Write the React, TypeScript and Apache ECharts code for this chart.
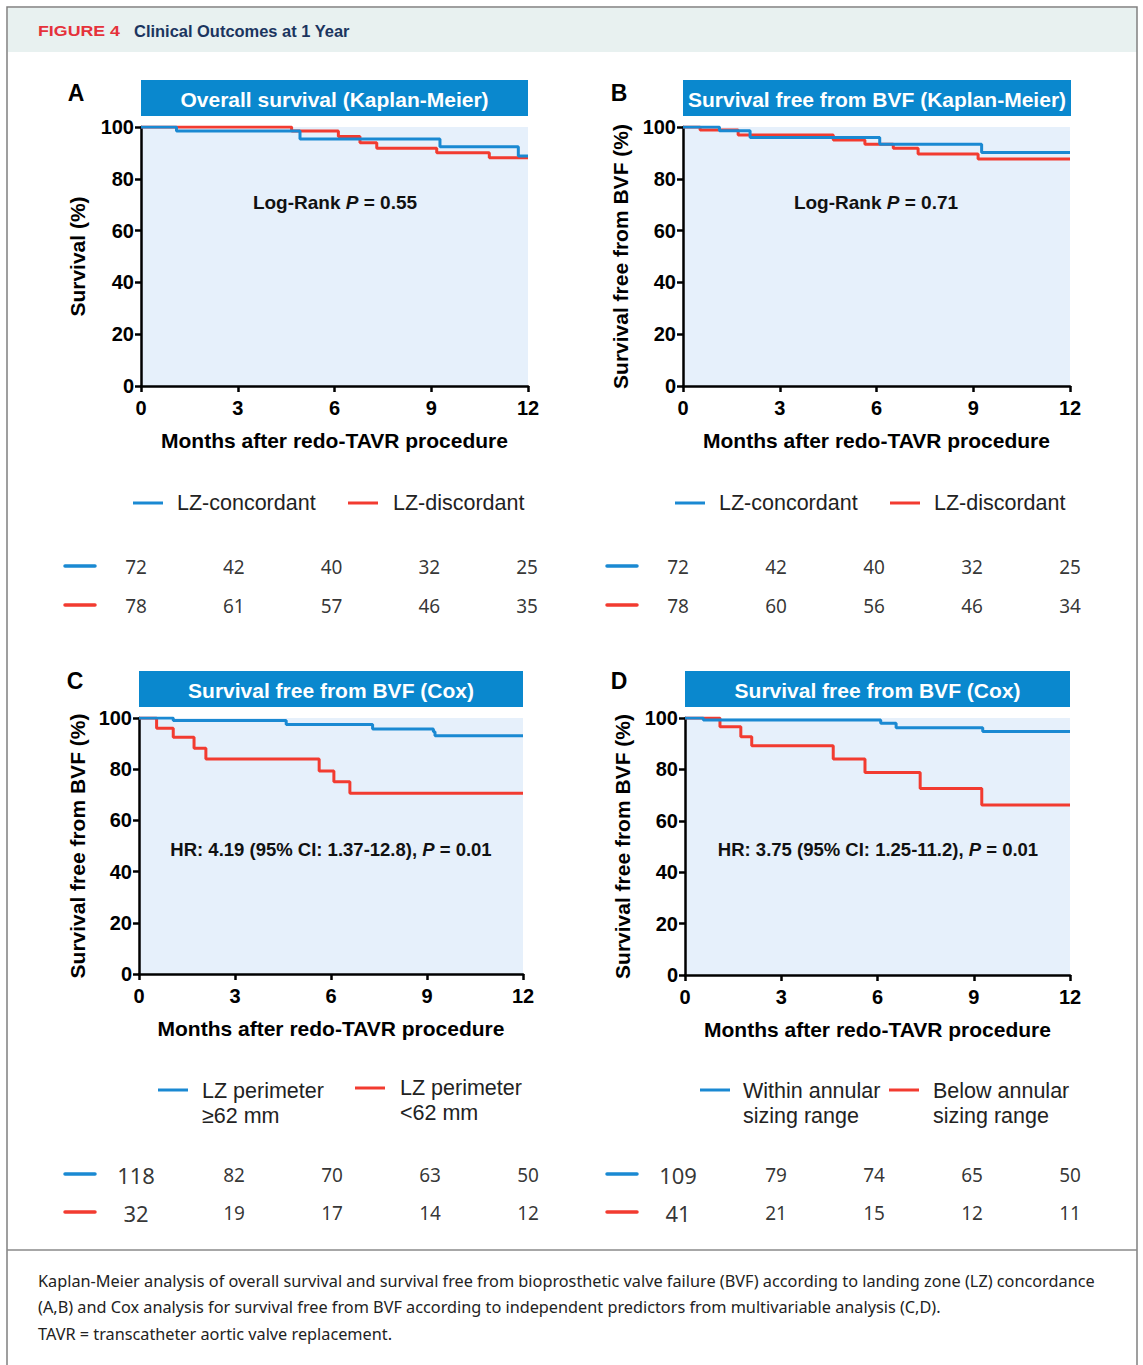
import React, { useEffect, useRef } from "react";
import * as echarts from "echarts";

// ---------- Data ----------
const riskMonths = [0, 3, 6, 9, 12];

// Panel A – Overall survival (Kaplan-Meier)
const aConcT = [0, 1.1, 4.93, 9.27, 11.7, 12];
const aConcS = [100, 98.5, 95.4, 92.4, 88.8, 88.8];
const aDiscT = [0, 4.67, 6.12, 6.79, 7.31, 9.17, 10.8, 12];
const aDiscS = [100, 98.5, 96.3, 93.9, 91.8, 90.1, 88.1, 88.1];
const aRiskConc = [72, 42, 40, 32, 25];
const aRiskDisc = [78, 61, 57, 46, 35];

// Panel B – Survival free from BVF (Kaplan-Meier)
const bConcT = [0, 1.13, 2.08, 6.1, 9.26, 12];
const bConcS = [100, 98.6, 95.9, 93.3, 90.2, 90.2];
const bDiscT = [0, 0.53, 1.71, 4.66, 5.64, 6.52, 7.29, 9.15, 12];
const bDiscS = [100, 98.8, 96.9, 95.0, 93.3, 91.8, 89.6, 87.6, 87.6];
const bRiskConc = [72, 42, 40, 32, 25];
const bRiskDisc = [78, 60, 56, 46, 34];

// Panel C – Survival free from BVF (Cox), LZ perimeter
const cHighT = [0, 1.07, 4.6, 7.3, 9.2, 9.25, 12];
const cHighS = [100, 99, 97.5, 95.7, 94.6, 93.1, 93.1];
const cLowT = [0, 0.55, 1.07, 1.72, 2.09, 5.63, 6.09, 6.59, 12];
const cLowS = [100, 96.0, 92.5, 88.2, 84.0, 79.3, 75.1, 70.6, 70.6];
const cRiskHigh = [118, 82, 70, 63, 50];
const cRiskLow = [32, 19, 17, 14, 12];

// Panel D – Survival free from BVF (Cox), annular sizing
const dWithinT = [0, 0.57, 6.1, 6.58, 9.28, 12];
const dWithinS = [100, 99.2, 98.0, 96.2, 94.7, 94.7];
const dBelowT = [0, 1.09, 1.74, 2.08, 4.62, 5.61, 7.33, 9.25, 12];
const dBelowS = [100, 96.6, 92.7, 89.2, 84.0, 78.8, 72.6, 66.1, 66.1];
const dRiskWithin = [109, 79, 74, 65, 50];
const dRiskBelow = [41, 21, 15, 12, 11];

const panelTitles = [
  "Overall survival (Kaplan-Meier)",
  "Survival free from BVF (Kaplan-Meier)",
  "Survival free from BVF (Cox)",
  "Survival free from BVF (Cox)",
];
const yNames = [
  "Survival (%)",
  "Survival free from BVF (%)",
  "Survival free from BVF (%)",
  "Survival free from BVF (%)",
];
const xName = "Months after redo-TAVR procedure";

// ---------- Styles ----------
const BLUE = "#1A89D2";
const RED = "#F23B30";
const BANNER = "#0A88CE";
const PLOT_BG = "#E6F0FB";
const ARIAL = "'Liberation Sans', Arial, sans-serif";
const RISK_FONT = "'Noto Sans', sans-serif";
const CAPTION_FONT = "'Noto Sans', sans-serif";

function measure(text: string, font: string): number {
  const ctx = document.createElement("canvas").getContext("2d");
  if (!ctx) return text.length * 8;
  ctx.font = font;
  return ctx.measureText(text).width;
}

const pairs = (t: number[], s: number[]) => t.map((v, i) => [v, s[i]]);

function buildOption() {
  const mainGrids = [
    { left: 141, top: 127, width: 387, height: 259 },
    { left: 683, top: 127, width: 387, height: 259 },
    { left: 139, top: 718, width: 384, height: 256 },
    { left: 685, top: 718, width: 385, height: 257 },
  ];
  const riskGrids = [
    { left: 136, top: 567, width: 391, height: 39 },
    { left: 678, top: 567, width: 392, height: 39 },
    { left: 136, top: 1175, width: 392, height: 38 },
    { left: 678, top: 1175, width: 392, height: 38 },
  ];
  const grids: any[] = [
    ...mainGrids.map((g) => ({ ...g, show: true, backgroundColor: PLOT_BG, borderWidth: 0 })),
    ...riskGrids.map((g) => ({ ...g, show: false })),
  ];

  const tickText = { color: "#000", fontSize: 20, fontWeight: "bold", fontFamily: ARIAL };
  const nameText = { color: "#000", fontSize: 21, fontWeight: "bold", fontFamily: ARIAL };
  const axisLine = { show: true, onZero: false, lineStyle: { color: "#000", width: 2.5 } };
  const axisTick = { show: true, length: 6, lineStyle: { color: "#000", width: 2.5 } };

  const yGaps = [53, 52, 51, 52];
  const xAxes: any[] = [];
  const yAxes: any[] = [];
  for (let i = 0; i < 4; i++) {
    xAxes.push({
      gridIndex: i,
      type: "value",
      min: 0,
      max: 12,
      interval: 3,
      axisLine,
      axisTick,
      axisLabel: { ...tickText, margin: 12 },
      splitLine: { show: false },
      name: xName,
      nameLocation: "middle",
      nameGap: 44,
      nameTextStyle: nameText,
    });
    yAxes.push({
      gridIndex: i,
      type: "value",
      min: 0,
      max: 100,
      interval: 20,
      axisLine,
      axisTick,
      axisLabel: { ...tickText, margin: 7 },
      splitLine: { show: false },
      name: yNames[i],
      nameLocation: "middle",
      nameGap: yGaps[i],
      nameTextStyle: nameText,
    });
  }
  for (let i = 0; i < 4; i++) {
    xAxes.push({ gridIndex: 4 + i, type: "value", min: 0, max: 12, show: false });
    yAxes.push({ gridIndex: 4 + i, type: "value", min: 0, max: 1, show: false });
  }

  const curves: [number[], number[], number[], number[]][] = [
    [aConcT, aConcS, aDiscT, aDiscS],
    [bConcT, bConcS, bDiscT, bDiscS],
    [cHighT, cHighS, cLowT, cLowS],
    [dWithinT, dWithinS, dBelowT, dBelowS],
  ];
  const risks: [number[], number[]][] = [
    [aRiskConc, aRiskDisc],
    [bRiskConc, bRiskDisc],
    [cRiskHigh, cRiskLow],
    [dRiskWithin, dRiskBelow],
  ];

  const series: any[] = [];
  curves.forEach(([bt, bs, rt, rs], i) => {
    series.push({
      type: "line",
      xAxisIndex: i,
      yAxisIndex: i,
      step: "end",
      symbol: "none",
      silent: true,
      data: pairs(rt, rs),
      lineStyle: { color: RED, width: 3 },
      z: 3,
    });
    series.push({
      type: "line",
      xAxisIndex: i,
      yAxisIndex: i,
      step: "end",
      symbol: "none",
      silent: true,
      data: pairs(bt, bs),
      lineStyle: { color: BLUE, width: 3 },
      z: 4,
    });
  });
  risks.forEach(([top, bottom], i) => {
    const big = i >= 2;
    [top, bottom].forEach((row, r) => {
      series.push({
        type: "scatter",
        xAxisIndex: 4 + i,
        yAxisIndex: 4 + i,
        symbolSize: 1,
        silent: true,
        itemStyle: { color: "rgba(0,0,0,0)" },
        data: riskMonths.map((m, k) => ({
          value: [m, r === 0 ? 1 : 0, row[k]],
          label: k === 0 && big ? { fontSize: 22 } : undefined,
        })),
        label: {
          show: true,
          position: "inside",
          formatter: (p: any) => String(p.value[2]),
          color: "#000",
          fontSize: 19,
          fontFamily: RISK_FONT,
        },
      });
    });
  });

  // ---------- Graphic overlays ----------
  const g: any[] = [];
  g.push({ type: "rect", shape: { x: 8, y: 8, width: 1129, height: 44 }, style: { fill: "#E8F1F0" }, silent: true });
  g.push({
    type: "rect",
    shape: { x: 7, y: 7, width: 1130, height: 1380 },
    style: { fill: "none", stroke: "#808080", lineWidth: 1.5 },
    silent: true,
  });
  g.push({ type: "line", shape: { x1: 7, y1: 1250, x2: 1137, y2: 1250 }, style: { stroke: "#8a8a8a", lineWidth: 1.5 }, silent: true });

  const figFont = `bold 14px ${ARIAL}`;
  const figText = "FIGURE 4";
  const headFont = `bold 16px ${ARIAL}`;
  const headText = "Clinical Outcomes at 1 Year";
  g.push({
    type: "text",
    x: 38,
    y: 31,
    scaleX: 82 / measure(figText, figFont),
    style: { text: figText, font: figFont, fill: "#E5323B", textVerticalAlign: "middle", verticalAlign: "middle" },
  });
  g.push({
    type: "text",
    x: 134,
    y: 31,
    scaleX: 216 / measure(headText, headFont),
    style: { text: headText, font: headFont, fill: "#1B355F", textVerticalAlign: "middle", verticalAlign: "middle" },
  });

  // Banners
  const banners = [
    { x: 141, y: 80, w: 387, h: 36 },
    { x: 683, y: 80, w: 388, h: 36 },
    { x: 139, y: 671, w: 384, h: 36 },
    { x: 685, y: 671, w: 385, h: 36 },
  ];
  banners.forEach((b, i) => {
    g.push({ type: "rect", shape: { x: b.x, y: b.y, width: b.w, height: b.h }, style: { fill: BANNER } });
    g.push({
      type: "text",
      x: b.x + b.w / 2,
      y: b.y + b.h / 2 + 1,
      style: {
        text: panelTitles[i],
        font: `bold 21px ${ARIAL}`,
        fill: "#fff",
        textAlign: "center",
        align: "center",
        textVerticalAlign: "middle",
        verticalAlign: "middle",
      },
    });
  });

  // Panel letters
  const letters = [
    ["A", 76, 93],
    ["B", 619, 93],
    ["C", 75, 681],
    ["D", 619, 681],
  ];
  letters.forEach(([t, x, y]) =>
    g.push({
      type: "text",
      x,
      y,
      style: {
        text: t,
        font: `bold 23px ${ARIAL}`,
        fill: "#000",
        textAlign: "center",
        align: "center",
        textVerticalAlign: "middle",
        verticalAlign: "middle",
      },
    })
  );

  // Annotations
  const mkRich = (size: number) => ({
    a: { fontSize: size, fontWeight: "bold", fontFamily: ARIAL, fill: "#111" },
    i: { fontSize: size, fontWeight: "bold", fontStyle: "italic", fontFamily: ARIAL, fill: "#111" },
  });
  const annos: [string, number, number, number][] = [
    ["{a|Log-Rank }{i|P}{a| = 0.55}", 335, 202, 19],
    ["{a|Log-Rank }{i|P}{a| = 0.71}", 876, 202, 19],
    ["{a|HR: 4.19 (95% CI: 1.37-12.8), }{i|P}{a| = 0.01}", 331, 849, 18.5],
    ["{a|HR: 3.75 (95% CI: 1.25-11.2), }{i|P}{a| = 0.01}", 878, 849, 18.5],
  ];
  annos.forEach(([t, x, y, s]) =>
    g.push({
      type: "text",
      x,
      y,
      z: 10,
      style: {
        text: t,
        rich: mkRich(s),
        textAlign: "center",
        align: "center",
        textVerticalAlign: "middle",
        verticalAlign: "middle",
      },
    })
  );

  // Legends
  const legends: any[] = [
    // [color, lineX, lineY, textX, text, textCenterY]
    [BLUE, 133, 503, 177, "LZ-concordant", 503],
    [RED, 348, 503, 393, "LZ-discordant", 503],
    [BLUE, 675, 503, 719, "LZ-concordant", 503],
    [RED, 890, 503, 934, "LZ-discordant", 503],
    [BLUE, 158, 1090, 202, "LZ perimeter\n≥62 mm", 1103],
    [RED, 355, 1088, 400, "LZ perimeter\n<62 mm", 1100],
    [BLUE, 700, 1090, 743, "Within annular\nsizing range", 1103],
    [RED, 889, 1090, 933, "Below annular\nsizing range", 1103],
  ];
  legends.forEach(([c, lx, ly, tx, t, ty]: any) => {
    g.push({ type: "line", shape: { x1: lx, y1: ly, x2: lx + 30, y2: ly }, style: { stroke: c, lineWidth: 3 } });
    g.push({
      type: "text",
      x: tx,
      y: ty,
      style: {
        text: t,
        font: `21.5px ${ARIAL}`,
        lineHeight: 25,
        fill: "#222",
        textVerticalAlign: "middle",
        verticalAlign: "middle",
      },
    });
  });

  // Risk-table row markers
  const marks: [string, number, number][] = [
    [BLUE, 65, 566],
    [RED, 65, 605],
    [BLUE, 607, 566],
    [RED, 607, 605],
    [BLUE, 65, 1174],
    [RED, 65, 1212],
    [BLUE, 607, 1174],
    [RED, 607, 1212],
  ];
  marks.forEach(([c, x, y]) =>
    g.push({ type: "line", shape: { x1: x, y1: y, x2: x + 30, y2: y }, style: { stroke: c, lineWidth: 3.5, lineCap: "round" } })
  );

  // Caption
  const capFont = `16px ${CAPTION_FONT}`;
  const cap1 =
    "Kaplan-Meier analysis of overall survival and survival free from bioprosthetic valve failure (BVF) according to landing zone (LZ) concordance";
  const cap2 =
    "(A,B) and Cox analysis for survival free from BVF according to independent predictors from multivariable analysis (C,D).";
  const cap3 = "TAVR = transcatheter aortic valve replacement.";
  const capScale = 1057 / measure(cap1, capFont);
  [
    [cap1, 1281],
    [cap2, 1307],
    [cap3, 1334],
  ].forEach(([t, y]) =>
    g.push({
      type: "text",
      x: 38,
      y,
      scaleX: capScale,
      style: { text: t, font: capFont, fill: "#222", textVerticalAlign: "middle", verticalAlign: "middle" },
    })
  );

  return {
    animation: false,
    backgroundColor: "#fff",
    grid: grids,
    xAxis: xAxes,
    yAxis: yAxes,
    series,
    graphic: { elements: g },
  };
}

export default function App() {
  const ref = useRef<HTMLDivElement>(null);
  useEffect(() => {
    if (!ref.current) return;
    const chart = echarts.init(ref.current, null, { renderer: "svg" });
    chart.setOption(buildOption() as any);
    return () => chart.dispose();
  }, []);
  return (
    <div
      ref={ref}
      style={{ position: "absolute", left: 0, top: 0, width: 1143, height: 1365, background: "#fff" }}
    />
  );
}
